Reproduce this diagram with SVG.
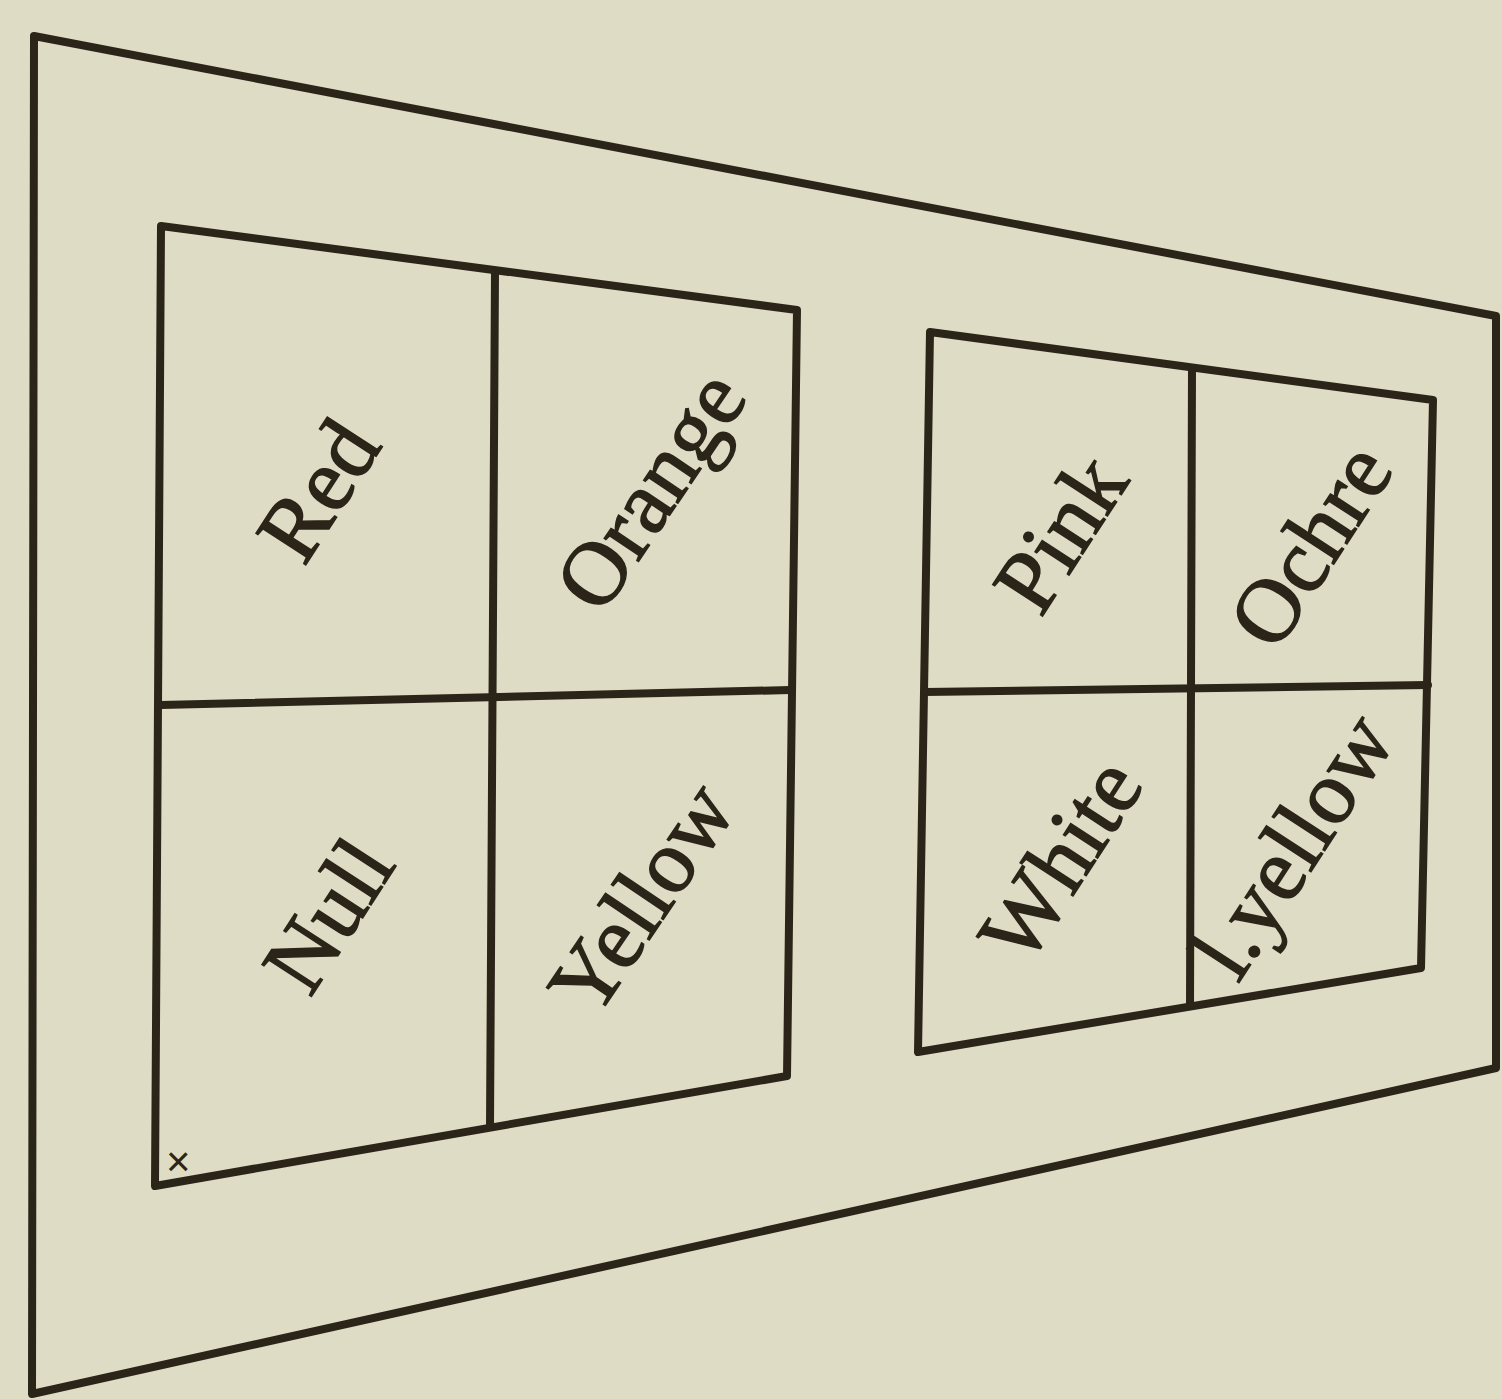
<svg xmlns="http://www.w3.org/2000/svg" width="1502" height="1399" viewBox="0 0 1502 1399">
<style>
.ln{fill:none;stroke:#2b2519;stroke-width:8;stroke-linejoin:round;stroke-linecap:round}
.t{font-family:"Liberation Serif","DejaVu Serif",serif;font-size:90px;fill:#2b2519;stroke:#2b2519;stroke-width:1.5;text-anchor:middle;dominant-baseline:central}
</style>
<rect width="1502" height="1399" fill="#dedcc4"/>
<g id="wall"><polygon class="ln" points="34,36 1496,316 1496,1068 32,1394"/></g>
<g id="panel-left">
<polygon class="ln" points="161,226 797,310 787,1076 155,1186"/>
<polyline class="ln" points="161,705 790,690"/>
<polyline class="ln" points="495,272 490,1126"/>
<text class="t" transform="translate(318,490) rotate(-57)">Red</text>
<text class="t" transform="translate(650,490) rotate(-56)">Orange</text>
<text class="t" transform="translate(328,915) rotate(-57)">Null</text>
<text class="t" transform="translate(641,898) rotate(-56)">Yellow</text>
<text style="font-family:'Liberation Sans',sans-serif;font-size:42px;fill:#2b2519" x="166" y="1176">×</text>
</g>
<g id="panel-right">
<polygon class="ln" points="930,332 1433,400 1421,968 918,1052"/>
<polyline class="ln" points="925,692 1428,685"/>
<polyline class="ln" points="1192,368 1190,1006"/>
<text class="t" transform="translate(1060,533) rotate(-57)">Pink</text>
<text class="t" transform="translate(1310,545) rotate(-57)">Ochre</text>
<text class="t" transform="translate(1060,860) rotate(-57)">White</text>
<text class="t" transform="translate(1292,845) rotate(-57)">l.yellow</text>
</g>
</svg>
